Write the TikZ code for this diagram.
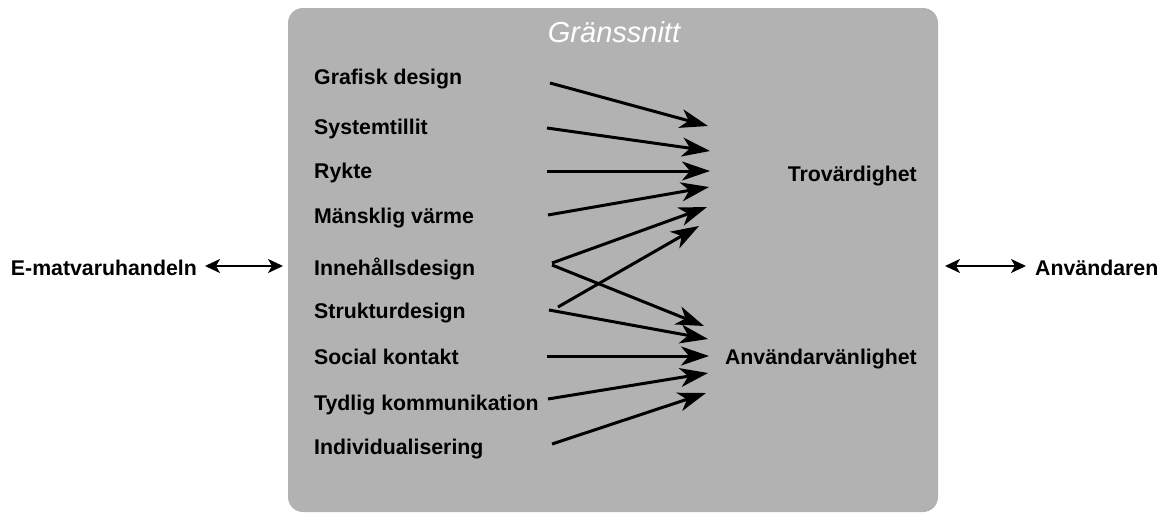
\documentclass[tikz,border=0pt]{standalone}
\usepackage{fontspec}
\setmainfont{Liberation Sans}
\usetikzlibrary{arrows.meta}
\definecolor{boxgray}{RGB}{178,178,178}
\tikzset{
  lab/.style={font=\bfseries\fontsize{21.3}{25}\selectfont, inner sep=0pt, text=black},
  llab/.style={lab, anchor=west},
  conn/.style={line width=3pt, -{Stealth[length=28pt,width=19pt,inset=8pt]}},
  dbl/.style={line width=2pt, {Stealth[length=15pt,width=14pt,inset=4pt]}-{Stealth[length=15pt,width=14pt,inset=4pt]}}
}
\begin{document}
\begin{tikzpicture}[x=1pt,y=-1pt]
\useasboundingbox (0,0) rectangle (1161,514);
\fill[white] (0,0) rectangle (1161,514);
\fill[boxgray, rounded corners=15pt] (288,8) rectangle (938,512);
\node[font=\itshape\fontsize{29}{33}\selectfont, text=white, inner sep=0pt] (title) at (614,32) {Gränssnitt};

\node[llab] (l1) at (314,79) {Grafisk design};
\node[llab] (l2) at (314,129) {Systemtillit};
\node[llab] (l3) at (314,173) {Rykte};
\node[llab] (l4) at (314,218) {Mänsklig värme};
\node[llab] (l5) at (314,269) {Innehållsdesign};
\node[llab] (l6) at (314,313) {Strukturdesign};
\node[llab] (l7) at (314,357) {Social kontakt};
\node[llab] (l8) at (314,405) {Tydlig kommunikation};
\node[llab] (l9) at (314,449) {Individualisering};

\node[lab, anchor=east] (tro) at (917,176) {Trovärdighet};
\node[lab, anchor=east] (anv) at (917,359) {Användarvänlighet};

\node[lab, anchor=east] (ema) at (197,268) {E-matvaruhandeln};
\node[lab, anchor=west] (anvr) at (1035,268) {Användaren};

% arrow end points
\coordinate (s1) at (550,83);   \coordinate (e1) at (708,126);
\coordinate (s2) at (547,128);  \coordinate (e2) at (710,151);
\coordinate (s3) at (547,171);  \coordinate (e3) at (710,171);
\coordinate (s4) at (548,215);  \coordinate (e4) at (709,187);
\coordinate (s5a) at (552,263); \coordinate (e5a) at (707,207);
\coordinate (s5b) at (552,265); \coordinate (e5b) at (704,326);
\coordinate (s6a) at (558,307); \coordinate (e6a) at (699,226);
\coordinate (s6b) at (549,310); \coordinate (e6b) at (708,339);
\coordinate (s7) at (547,356);  \coordinate (e7) at (709,356);
\coordinate (s8) at (548,399);  \coordinate (e8) at (708,373);
\coordinate (s9) at (552,444);  \coordinate (e9) at (706,393);

\draw[conn] (s1) -- (e1);
\draw[conn] (s2) -- (e2);
\draw[conn] (s3) -- (e3);
\draw[conn] (s4) -- (e4);
\draw[conn] (s5a) -- (e5a);
\draw[conn] (s5b) -- (e5b);
\draw[conn] (s6a) -- (e6a);
\draw[conn] (s6b) -- (e6b);
\draw[conn] (s7) -- (e7);
\draw[conn] (s8) -- (e8);
\draw[conn] (s9) -- (e9);

\coordinate (lb) at (283,266);
\coordinate (rb) at (945,266);
\draw[dbl] (ema.east |- lb) ++(8pt,0) coordinate (la) -- (lb);
\draw[dbl] (rb) -- ([xshift=-9pt]anvr.west |- rb);
\end{tikzpicture}
\end{document}
